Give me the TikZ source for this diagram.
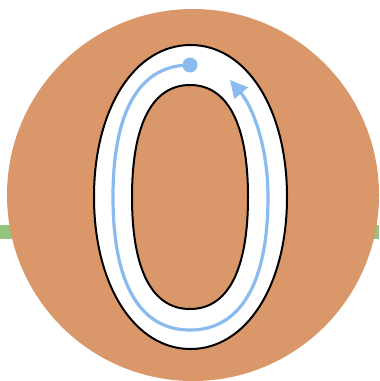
\documentclass[tikz,border=0pt]{standalone}
\usetikzlibrary{arrows.meta}
\definecolor{disc}{RGB}{218,151,106}
\definecolor{grn}{RGB}{147,196,125}
\definecolor{blu}{RGB}{139,187,238}
\tikzset{
  digit/.style={draw=black,line width=1.5pt},
  trace/.style={draw=blu,line width=2.4pt},
}
\begin{document}
\begin{tikzpicture}[x=0.75pt,y=-0.75pt]
\useasboundingbox (0,0) rectangle (379,381);
% green bar behind the disc
\fill[grn] (0,225) rectangle (379,239);
% disc
\fill[disc] (193,195) circle[radius=186];
% outer contour of the zero (white filled), inner hole orange
\path[digit,fill=white]
  (190.5,45) .. controls (246,45) and (287,108) .. (287,197)
  .. controls (287,286) and (246,349) .. (190.5,349)
  .. controls (135,349) and (94,286) .. (94,197)
  .. controls (94,108) and (135,45) .. (190.5,45) -- cycle;
\path[digit,fill=disc]
  (190,85) .. controls (228,85) and (248,125) .. (248,197)
  .. controls (248,270) and (228,309) .. (190,309)
  .. controls (152,309) and (132,270) .. (132,197)
  .. controls (132,125) and (152,85) .. (190,85) -- cycle;
% tracing path
\coordinate (start) at (190,65);
\coordinate (left) at (113,197);
\coordinate (bottom) at (190,330);
\coordinate (right) at (268,197);
\coordinate (tip) at (230,80);
\draw[trace,-{Triangle[length=13pt,width=13pt]}]
  (start) .. controls (140,65) and (113,110) .. (left)
  .. controls (113,284) and (140,330) .. (bottom)
  .. controls (240,330) and (268,284) .. (right)
  .. controls (268,145) and (252,106) .. (tip);
\fill[blu] (start) circle[radius=7.5];
\end{tikzpicture}
\end{document}
